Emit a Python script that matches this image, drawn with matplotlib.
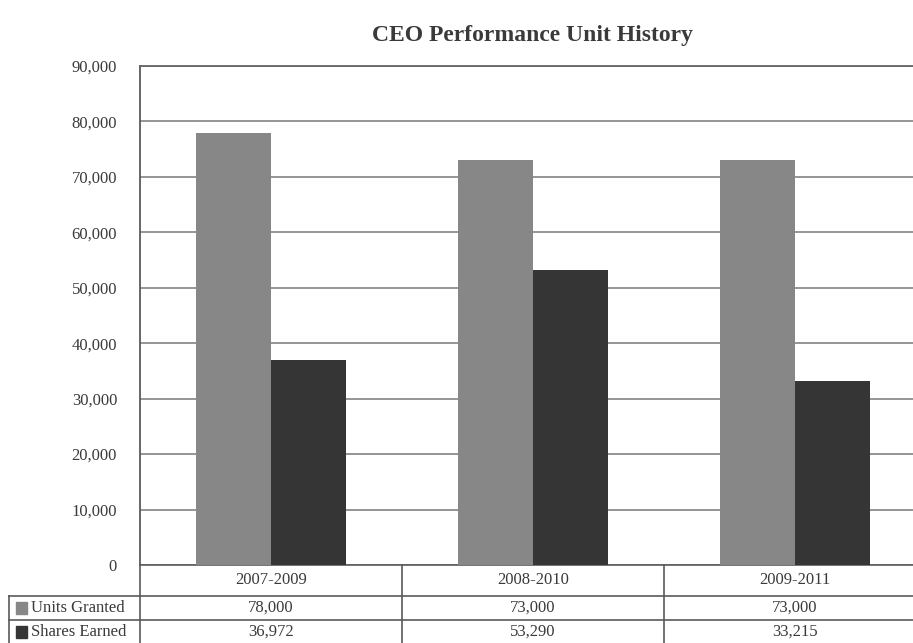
import matplotlib.pyplot as plt
import matplotlib.transforms as mtransforms
from matplotlib.patches import Rectangle
import numpy as np

# data
periods = ['2007-2009', '2008-2010', '2009-2011']
units_granted = [78000, 73000, 73000]
shares_earned = [36972, 53290, 33215]
series_names = ['Units Granted', 'Shares Earned']
yticks = [0, 10000, 20000, 30000, 40000, 50000, 60000, 70000, 80000, 90000]

gray = '#878787'
dark = '#353535'
line_c = '#5a5a5a'
text_c = '#3a3a3a'

plt.rcParams['font.family'] = ['Liberation Serif', 'DejaVu Serif']

fig = plt.figure(figsize=(9.13, 6.43), dpi=100)
# plot area runs past the right edge, like the cropped original
ax = fig.add_axes([140 / 913, 78 / 643, 786 / 913, 499 / 643])

x = np.arange(len(periods))
w = 0.286
ax.bar(x - w / 2, units_granted, w, color=gray, zorder=3)
ax.bar(x + w / 2, shares_earned, w, color=dark, zorder=3)

ax.set_xlim(-0.5, len(periods) - 0.5)
ax.set_ylim(0, 90000)
ax.set_yticks(yticks)
ax.set_yticklabels([f'{v:,}' for v in yticks], fontsize=12, color=text_c)
ax.tick_params(axis='y', length=0, pad=16.5)
ax.set_xticks([])
ax.yaxis.grid(True, color='#8c8c8c', linewidth=1.3, zorder=0)
for s in ['right', 'bottom']:
    ax.spines[s].set_visible(False)
ax.spines['top'].set_color('#666666')
ax.spines['top'].set_linewidth(1.3)
ax.spines['left'].set_color(line_c)
ax.spines['left'].set_linewidth(1.3)

ax.set_title('CEO Performance Unit History', fontsize=17, fontweight='bold',
             color=text_c, pad=18)

# data table under the axis
tr = mtransforms.blended_transform_factory(ax.transData, ax.transAxes)
row_y = [0, -31 / 499, -55 / 499, -79 / 499]
lw = 1.2
ncat = len(periods)

def hline(x0, x1, y):
    ax.plot([x0, x1], [y, y], color=line_c, lw=lw, transform=tr, clip_on=False)

def vline(xv, y0, y1):
    ax.plot([xv, xv], [y0, y1], color=line_c, lw=lw, transform=tr, clip_on=False)

hline(-0.5, ncat - 0.5, row_y[0])
for y in row_y[1:]:
    hline(-1.0, ncat - 0.5, y)
vline(-1.0, row_y[1], row_y[3])
for i in range(ncat + 1):
    vline(i - 0.5, row_y[0], row_y[3])

for i, p in enumerate(periods):
    ax.text(i, (row_y[0] + row_y[1]) / 2, p, transform=tr, ha='center',
            va='center', fontsize=12, color=text_c)

rows = [units_granted, shares_earned]
colors = [gray, dark]
for r, (name, vals, c) in enumerate(zip(series_names, rows, colors)):
    yc = (row_y[r + 1] + row_y[r + 2]) / 2
    for i, v in enumerate(vals):
        ax.text(i, yc, f'{v:,}', transform=tr, ha='center', va='center',
                fontsize=12, color=text_c)
    ax.add_patch(Rectangle((-0.975, yc - 0.012), 0.045, 0.024, color=c,
                           transform=tr, clip_on=False))
    ax.text(-0.915, yc, name, transform=tr, ha='left', va='center',
            fontsize=12, color=text_c)

fig.savefig('out.png', dpi=100)
